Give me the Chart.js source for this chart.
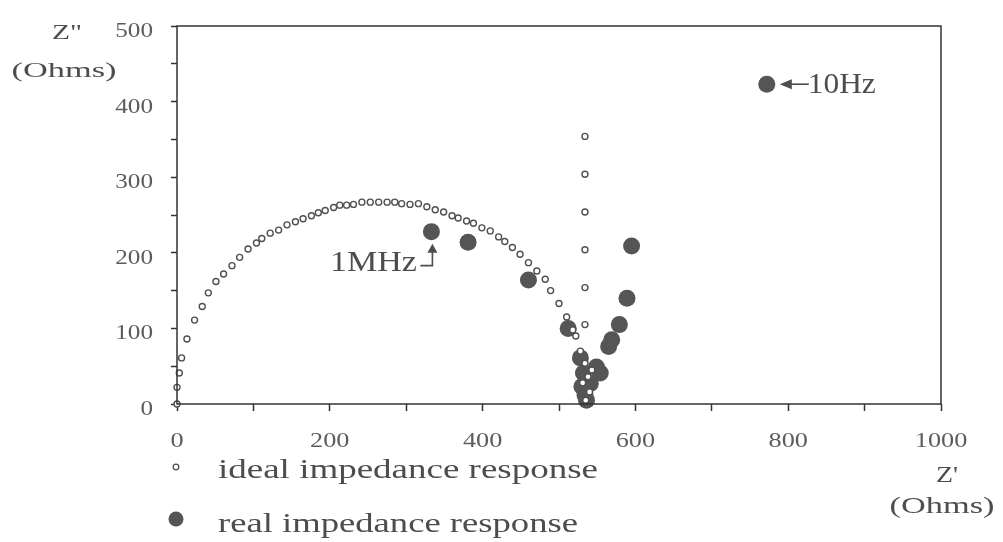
<!DOCTYPE html>
<html>
<head>
<meta charset="utf-8">
<script src="https://cdn.jsdelivr.net/npm/chart.js@4/dist/chart.umd.min.js"></script>
<style>
    html, body { margin: 0; padding: 0; background: #fff; }
    #wrap { width: 1003px; height: 542px; }
</style>
</head>
<body>
<div id="wrap"><canvas id="nyquistChart" width="1003" height="542"></canvas></div>
<script>
// --- Data (Ohms) ---
// ideal response: semicircle then the vertical capacitive line
const idealZre = [0, 0, 3, 6, 13, 23, 33, 41, 51, 61, 72, 82, 93, 104, 111, 122, 133, 144, 155, 165,
    176, 185, 194, 205, 213, 222, 231, 242, 253, 264, 275, 285, 294, 305, 316, 327, 338, 349, 360, 368,
    379, 388, 399, 410, 421, 429, 439, 449, 460, 471, 482, 489, 500, 510, 518, 522, 528, 534, 543, 538,
    531, 540, 535, 534, 534, 534, 534, 534, 534];
const idealZim = [0, 22, 41, 61, 86, 111, 129, 147, 162, 172, 183, 194, 205, 213, 219, 226, 230, 237, 241, 245,
    249, 253, 256, 260, 263, 263, 264, 267, 267, 267, 267, 267, 265, 264, 265, 261, 257, 254, 249, 246,
    242, 239, 233, 229, 221, 215, 207, 198, 187, 176, 165, 150, 133, 115, 98, 90, 70, 54, 45, 36,
    28, 16, 5, 105, 154, 204, 254, 304, 354];

// real response: large dots, 1MHz first, 10Hz last
const realZre = [333, 381, 460, 512, 536, 534, 530, 541, 532, 549, 554, 528, 565, 569, 579, 589, 595, 772];
const realZim = [228, 214, 164, 100, 5, 12, 23, 27, 41, 49, 41, 61, 76, 85, 105, 140, 209, 423];

const xTicks = [0, 200, 400, 600, 800, 1000];
const yTicks = [0, 100, 200, 300, 400, 500];

const inkColor = '#4d4d4d';
const tickInk = '#5c5c5c';
const dotColor = '#555555';
const serif = '"Liberation Serif", "Times New Roman", serif';

// --- Helper: draw text squeezed/stretched to a width (the scan is wider than tall) ---
function fitText(ctx, text, cx, baseline, size, width, color) {
    ctx.save();
    ctx.font = `${size}px ${serif}`;
    const w = ctx.measureText(text).width;
    const sx = width ? width / w : 1.25;
    ctx.translate(cx, baseline);
    ctx.scale(sx, 1);
    ctx.textAlign = 'center';
    ctx.textBaseline = 'alphabetic';
    ctx.fillStyle = color || inkColor;
    ctx.fillText(text, 0, 0);
    ctx.restore();
}

function toPoints(xs, ys) {
    return xs.map((x, i) => ({ x: x, y: ys[i] }));
}

// --- Plugin: frame, tick labels, annotations and legend ---
const decorations = {
    id: 'decorations',
    afterDraw(chart) {
        const ctx = chart.ctx;
        const area = chart.chartArea;
        const xs = chart.scales.x;
        const ys = chart.scales.y;

        // frame
        ctx.save();
        ctx.strokeStyle = '#333';
        ctx.lineWidth = 1.5;
        ctx.strokeRect(area.left, area.top, area.right - area.left, area.bottom - area.top);
        ctx.restore();

        // tick labels
        xTicks.forEach(v => {
            fitText(ctx, String(v), xs.getPixelForValue(v), area.bottom + 43, 21, null, tickInk);
        });
        yTicks.forEach(v => {
            ctx.save();
            ctx.font = `21px ${serif}`;
            const w = ctx.measureText(String(v)).width * 1.2;
            ctx.restore();
            fitText(ctx, String(v), 153 - w / 2, ys.getPixelForValue(v) + 11, 21, w, tickInk);
        });

        // axis titles
        fitText(ctx, 'Z"', 67, 39, 21, 30);
        fitText(ctx, '(Ohms)', 64, 77, 22, 105);
        fitText(ctx, "Z'", 947, 482, 24, 22);
        fitText(ctx, '(Ohms)', 942, 513, 24, 105);

        // 1MHz marker
        const mx = xs.getPixelForValue(realZre[0]);
        const my = ys.getPixelForValue(realZim[0]);
        ctx.save();
        ctx.strokeStyle = inkColor;
        ctx.fillStyle = inkColor;
        ctx.lineWidth = 1.6;
        ctx.beginPath();
        ctx.moveTo(mx - 11, my + 34);
        ctx.lineTo(mx + 1, my + 34);
        ctx.lineTo(mx + 1, my + 20);
        ctx.stroke();
        ctx.beginPath();
        ctx.moveTo(mx + 1, my + 12);
        ctx.lineTo(mx - 4, my + 21);
        ctx.lineTo(mx + 6, my + 21);
        ctx.closePath();
        ctx.fill();
        ctx.restore();
        fitText(ctx, '1MHz', mx - 58, my + 39, 29, 87);

        // 10Hz marker
        const tx = xs.getPixelForValue(realZre[realZre.length - 1]);
        const ty = ys.getPixelForValue(realZim[realZim.length - 1]);
        ctx.save();
        ctx.strokeStyle = inkColor;
        ctx.fillStyle = inkColor;
        ctx.lineWidth = 1.6;
        ctx.beginPath();
        ctx.moveTo(tx + 22, ty);
        ctx.lineTo(tx + 42, ty);
        ctx.stroke();
        ctx.beginPath();
        ctx.moveTo(tx + 13, ty);
        ctx.lineTo(tx + 25, ty - 5);
        ctx.lineTo(tx + 25, ty + 5);
        ctx.closePath();
        ctx.fill();
        ctx.restore();
        fitText(ctx, '10Hz', tx + 75, ty + 9, 29, 68);

        // legend
        ctx.save();
        ctx.strokeStyle = dotColor;
        ctx.fillStyle = '#fff';
        ctx.lineWidth = 1.3;
        ctx.beginPath();
        ctx.arc(176, 467, 2.8, 0, Math.PI * 2);
        ctx.fill();
        ctx.stroke();
        ctx.fillStyle = dotColor;
        ctx.beginPath();
        ctx.arc(176, 519, 7.5, 0, Math.PI * 2);
        ctx.fill();
        ctx.restore();
        fitText(ctx, 'ideal impedance response', 408, 478, 28, 380);
        fitText(ctx, 'real impedance response', 398, 532, 28, 360);
    }
};

// --- Draw the Chart ---
const ctx = document.getElementById('nyquistChart').getContext('2d');
new Chart(ctx, {
    type: 'scatter',
    data: {
        datasets: [
            {
                label: 'ideal impedance response',
                data: toPoints(idealZre, idealZim),
                pointRadius: 3,
                pointBorderWidth: 1.4,
                pointBorderColor: '#505050',
                pointBackgroundColor: '#ffffff',
                clip: false
            },
            {
                label: 'real impedance response',
                data: toPoints(realZre, realZim),
                pointRadius: 8.5,
                pointBorderWidth: 0,
                pointBackgroundColor: dotColor,
                clip: false
            }
        ]
    },
    options: {
        responsive: false,
        animation: false,
        devicePixelRatio: 1,
        layout: { padding: { left: 0, right: 62, top: 26, bottom: 0 } },
        plugins: {
            legend: { display: false },
            tooltip: { enabled: false }
        },
        scales: {
            x: {
                type: 'linear',
                min: 0,
                max: 1000,
                border: { display: false },
                grid: { drawOnChartArea: false, drawTicks: true, tickLength: 7, tickColor: '#333', tickWidth: 1.5 },
                ticks: { stepSize: 100, autoSkip: false, callback: () => '' },
                afterFit: s => { s.height = 138; }
            },
            y: {
                type: 'linear',
                min: 0,
                max: 500,
                border: { display: false },
                grid: { drawOnChartArea: false, drawTicks: true, tickLength: 6, tickColor: '#333', tickWidth: 1.5 },
                ticks: { stepSize: 50, autoSkip: false, callback: () => '' },
                afterFit: s => { s.height = undefined; s.width = 177; }
            }
        }
    },
    plugins: [decorations]
});
</script>
</body>
</html>
